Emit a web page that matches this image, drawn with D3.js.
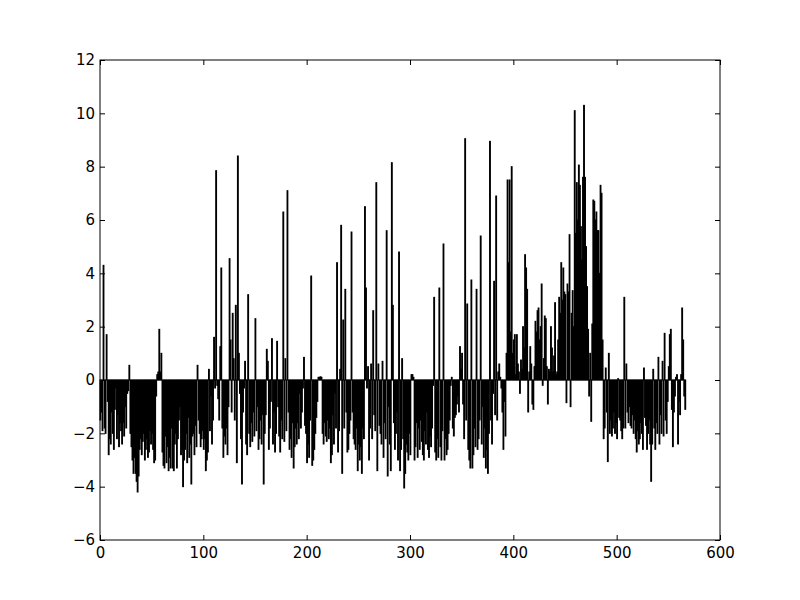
<!DOCTYPE html>
<html>
<head>
<meta charset="utf-8">
<script src="https://cdn.jsdelivr.net/npm/d3@7"></script>
<style>
  body { margin: 0; background: #fff; }
  svg { display: block; }
  .tick text { font-family: "DejaVu Sans", sans-serif; font-size: 15px; fill: #000; }
</style>
</head>
<body>
<div id="chart"></div>
<script>
// bar values, one per integer position
var values = [
  -1.5, -1.2, -1.9, 4.3, -1.8, -2.0, 1.7, -0.8, -2.8, -2.2,
  -2.4, -1.2, -2.0, -2.6, -1.1, -0.3, -2.2, -1.3, -2.5, -1.6,
  -1.9, -2.4, -1.6, -2.1, -1.0, -1.8, -0.5, -0.4, 0.55, -2.0,
  -2.5, -3.0, -3.5, -2.9, -3.5, -3.8, -4.2, -3.6, -2.6, -2.2,
  -2.8, -2.3, -2.0, -3.0, -2.6, -2.2, -2.9, -2.7, -1.9, -2.4,
  -2.0, -2.6, -3.1, -3.0, -0.6, 0.2, 0.3, 1.9, 0.3, 1.0,
  -2.7, -3.2, -3.3, -2.1, -3.1, -2.5, -3.4, -2.9, -3.3, -1.8,
  -3.3, -3.4, -2.4, -2.0, -3.3, -2.2, -1.5, -1.0, -2.8, -2.6,
  -4.0, -3.0, -2.6, -2.0, -3.1, -1.4, -2.9, -2.4, -3.9, -2.1,
  -2.0, -2.8, -1.7, -2.5, 0.55, -1.5, -2.0, -2.5, -2.2, -1.9,
  -2.6, -2.2, -3.4, -3.0, -2.7, 0.4, -1.9, -0.6, -2.4, -1.5,
  1.6, -0.3, 7.85, -0.2, -0.7, -1.5, 1.25, 4.2, -1.8, -2.9,
  -2.1, -2.4, -1.8, -2.8, -1.0, 4.55, 1.5, -1.2, 2.5, 0.8,
  -1.5, 2.8, -3.1, 8.4, 1.0, -0.5, -2.2, -3.9, -1.2, -0.3,
  0.7, -2.4, -2.8, 3.2, -2.0, -2.5, -1.6, -2.3, -1.2, -2.1,
  2.3, -1.9, -1.0, -2.6, -2.2, -1.5, -2.4, -1.3, -3.9, -2.0,
  -1.3, 1.15, 0.7, -2.6, -1.8, -0.8, 1.55, -2.4, -1.2, -2.7,
  -2.0, 1.45, -1.0, -2.1, -2.7, -1.5, -2.2, 6.3, -2.3, 0.8,
  -1.9, 7.1, -1.2, -2.6, -2.2, -2.9, -1.6, -3.3, -2.5, -1.8,
  -2.4, -1.6, -2.2, -0.5, -1.8, -1.2, -0.3, 0.85, -1.7, -2.0,
  -3.1, -2.4, -2.9, -1.5, 3.9, -3.2, -3.0, -2.6, -2.0, -1.4,
  -0.8, 0.1, 0.1, 0.12, 0.1, -2.0, -2.4, -1.6, -2.1, -2.3,
  -1.5, -2.2, -1.8, -3.1, -2.8, -1.3, -2.4, -0.5, -1.8, 4.4,
  -2.7, -1.9, 0.4, 5.8, -3.5, 2.25, -1.8, 3.4, -1.2, -2.7,
  -2.6, -2.0, -1.5, 5.55, -1.2, -2.2, -2.4, -2.6, -1.8, -3.4,
  -2.4, -3.0, -2.5, -3.5, -1.8, -2.2, 6.5, 3.45, -0.3, 0.5,
  -3.0, -1.8, 0.6, -2.2, 2.6, -1.3, -1.9, 7.4, -3.4, 0.6,
  -1.7, -2.0, -2.4, 0.7, -2.9, -1.6, -2.2, 5.6, -3.6, -1.0,
  -2.4, -3.4, 8.15, 2.8, -1.6, -2.6, -2.0, -1.2, -3.0, 4.8,
  -3.4, -2.6, 0.8, -2.2, -4.05, -3.5, -2.4, -2.7, -3.0, -2.0,
  -2.8, 0.2, 0.2, 0.1, -3.0, -2.5, -1.6, -2.9, -1.8, -2.6,
  -1.5, -2.3, -2.8, -3.0, -1.9, -2.4, -1.2, -2.6, -2.9, -2.1,
  -2.5, -1.8, -0.2, 3.1, -2.7, -3.0, -2.2, -2.9, 3.45, -2.5,
  -3.0, -1.9, 5.1, -3.0, -2.2, -2.8, -2.6, -2.0, -1.5, -0.2,
  0.1, -1.8, -2.1, -1.4, -1.3, -0.9, -0.6, -1.2, 1.25, 0.4,
  1.0, -0.9, -2.2, 9.05, -1.5, 2.85, -2.6, -3.0, -3.3, 3.75,
  -3.3, -2.8, -1.8, -2.5, 3.4, -2.6, -2.2, -1.5, 5.4, -2.4,
  -1.0, -2.9, -1.8, -3.3, -2.6, -3.5, -2.0, 8.95, -1.5, -2.4,
  -0.5, 3.7, -1.3, 6.9, -1.5, 0.3, 0.6, 0.1, -0.3, -1.2,
  -2.6, -0.8, -2.1, 1.0, 7.5, 4.4, 7.5, 1.8, 8.0, 1.0,
  1.5, 1.7, 0.2, 1.7, 0.6, 0.3, -0.5, 0.75, 0.4, 2.0,
  1.2, 4.7, 4.2, 3.4, -1.2, 0.3, 1.25, 0.6, -0.9, -1.1,
  0.5, 2.2, 1.8, 2.6, 2.7, 1.5, 2.0, 3.6, -0.2, 0.8,
  2.4, 2.3, 0.5, -0.9, 0.4, 0.3, 2.0, 1.2, 0.3, 0.9,
  2.9, 0.2, 0.3, 1.5, 3.1, 2.5, 4.4, 3.0, 4.2, 3.3,
  3.2, -0.85, 3.6, 3.3, 5.45, -1.0, 2.5, 3.35, 2.0, 10.1,
  5.5, 7.4, 6.0, 8.06, 7.3, 5.75, 4.5, 7.6, 10.3, 7.6,
  5.0, 3.5, 1.9, -0.6, 1.0, -1.55, 2.1, 6.75, 6.7, 6.0,
  6.3, 5.6, 5.6, 4.0, 7.3, 7.0, 1.5, -2.2, -1.8, 0.45,
  -1.2, -3.06, 1.0, -2.0, -1.5, -2.1, -1.8, -1.2, -2.0, -1.6,
  -2.2, 0.05, -1.4, -1.5, -1.9, -2.2, -1.8, 3.1, -1.8, 0.6,
  -1.2, -1.6, -1.0, -1.7, -1.8, -1.3, -2.0, -1.5, -2.2, -2.7,
  -1.9, -2.4, -2.2, -1.6, -2.0, -2.6, 0.45, -1.4, -1.7, -2.6,
  -2.0, -1.5, -2.4, -3.8, -2.4, 0.4, -1.8, -2.6, -1.6, -2.0,
  0.85, -2.4, -1.3, -2.0, 0.7, -2.1, 1.75, -1.5, -2.0, -0.8,
  0.5, 1.7, 1.9, -1.1, -2.5, -1.2, -0.6, 0.1, 0.2, -2.4,
  -0.8, -1.3, 0.2, 2.7, 1.5, -0.6, -1.1
];

var xTicks = [0, 100, 200, 300, 400, 500, 600];
var yTicks = [-6, -4, -2, 0, 2, 4, 6, 8, 10, 12];

var width = 800, height = 600;
var margin = { top: 60, right: 80, bottom: 60, left: 100 };
var plot_w = width - margin.left - margin.right;
var plot_h = height - margin.top - margin.bottom;

var x = d3.scaleLinear().domain([0, 600]).range([0, plot_w]);
var y = d3.scaleLinear().domain([-6, 12]).range([plot_h, 0]);

var fmt = function(d) { return d < 0 ? "\u2212" + Math.abs(d) : String(d); };

var svg = d3.select("#chart").append("svg")
  .attr("width", width)
  .attr("height", height);

var g = svg.append("g")
  .attr("transform", "translate(" + margin.left + "," + margin.top + ")");

// bars (classic matplotlib: left-aligned, width 0.8, black edge)
g.selectAll("rect.bar")
  .data(values)
  .enter()
  .append("rect")
  .attr("class", "bar")
  .attr("x", function(d, i) { return x(i); })
  .attr("width", x(0.8) - x(0))
  .attr("y", function(d) { return y(Math.max(0, d)); })
  .attr("height", function(d) { return Math.abs(y(d) - y(0)); })
  .attr("fill", "#000")
  .attr("stroke", "#000")
  .attr("stroke-width", 1);

// axes with inward ticks on all four sides
var tickLen = 5;
var axisBottomG = g.append("g").attr("transform", "translate(0," + plot_h + ")")
  .call(d3.axisBottom(x).tickValues(xTicks).tickFormat(fmt).tickSizeInner(-tickLen).tickSizeOuter(0).tickPadding(7));
var axisTopG = g.append("g")
  .call(d3.axisTop(x).tickValues(xTicks).tickFormat("").tickSizeInner(-tickLen).tickSizeOuter(0));
var axisLeftG = g.append("g")
  .call(d3.axisLeft(y).tickValues(yTicks).tickFormat(fmt).tickSizeInner(-tickLen).tickSizeOuter(0).tickPadding(5));
var axisRightG = g.append("g").attr("transform", "translate(" + plot_w + ",0)")
  .call(d3.axisRight(y).tickValues(yTicks).tickFormat("").tickSizeInner(-tickLen).tickSizeOuter(0));

[axisBottomG, axisTopG, axisLeftG, axisRightG].forEach(function(a) {
  a.select(".domain").remove();
  a.selectAll(".tick line").attr("stroke", "#000").attr("stroke-width", 1);
});

// frame
g.append("rect")
  .attr("x", 0).attr("y", 0)
  .attr("width", plot_w).attr("height", plot_h)
  .attr("fill", "none")
  .attr("stroke", "#000")
  .attr("stroke-width", 1);
</script>
</body>
</html>
